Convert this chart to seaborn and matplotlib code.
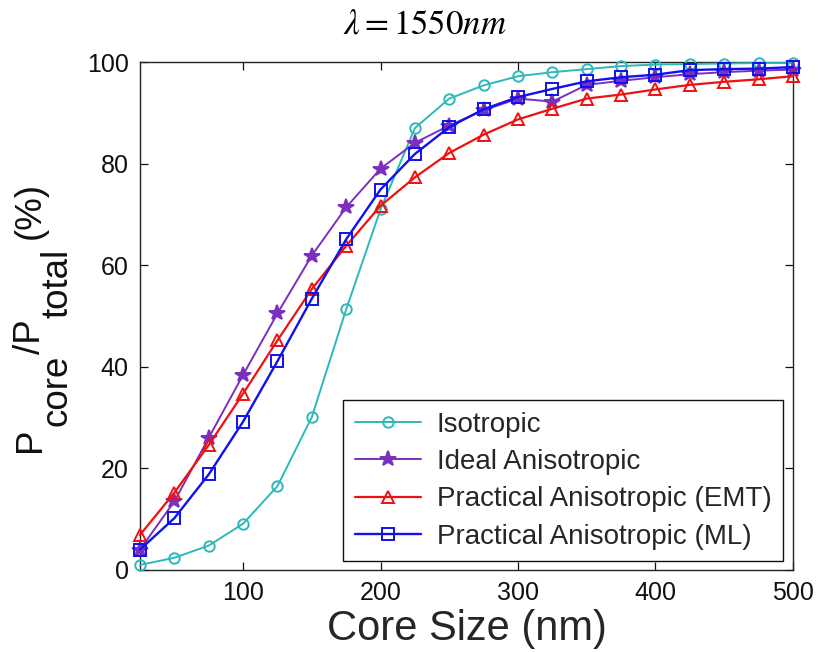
import matplotlib
matplotlib.use("Agg")
import matplotlib.pyplot as plt
import seaborn as sns
import pandas as pd

# Core sizes (nm) at which the power fraction was computed
core_size = [25, 50, 75, 100, 125, 150, 175, 200, 225, 250,
             275, 300, 325, 350, 375, 400, 425, 450, 475, 500]

# Fraction of total power confined in the core (%)
isotropic = [1.0, 2.4, 4.8, 9.1, 16.5, 30.1, 51.3, 71.0, 87.0, 92.8,
             95.4, 97.2, 98.0, 98.6, 99.2, 99.5, 99.6, 99.7, 99.8, 99.8]
ideal_aniso = [4.0, 13.5, 26.0, 38.4, 50.5, 61.9, 71.4, 79.0, 84.1, 87.5,
               90.5, 92.8, 92.2, 95.5, 96.3, 97.0, 97.6, 98.0, 98.3, 98.5]
practical_emt = [6.9, 15.2, 24.6, 34.7, 45.2, 55.3, 63.8, 71.7, 77.3, 82.1,
                 85.7, 88.7, 90.8, 92.8, 93.6, 94.6, 95.5, 96.1, 96.6, 97.2]
practical_ml = [4.0, 10.2, 18.8, 29.2, 41.1, 53.4, 65.1, 74.9, 81.9, 87.2,
                90.7, 93.1, 94.7, 96.2, 97.0, 97.5, 98.4, 98.6, 98.7, 99.0]

series_names = ["Isotropic", "Ideal Anisotropic",
                "Practical Anisotropic (EMT)", "Practical Anisotropic (ML)"]
series_values = [isotropic, ideal_aniso, practical_emt, practical_ml]

x_ticks = [100, 200, 300, 400, 500]
y_ticks = [0, 20, 40, 60, 80, 100]

# Line styling per series: (colour, marker, marker size, filled, line width)
styles = [
    ("#2EB8B8", "o", 7.5, False, 1.4),
    ("#7B2FBE", "*", 11.5, True, 1.4),
    ("#F01010", "^", 8.0, False, 1.6),
    ("#1010F0", "s", 8.0, False, 1.7),
]

sns.set_theme(style="ticks")
plt.rcParams["font.family"] = ["Liberation Sans", "DejaVu Sans"]

W_PX, H_PX = 819, 652
fig = plt.figure(figsize=(W_PX / 100, H_PX / 100), dpi=100)
ax = fig.add_axes([0.1709, 0.1258, 0.7973, 0.7791])

for name, vals, (col, mk, ms, filled, lw) in zip(series_names, series_values, styles):
    df = pd.DataFrame({"size": core_size, "frac": vals})
    sns.lineplot(data=df, x="size", y="frac", ax=ax, color=col, lw=lw,
                 marker=mk, markersize=ms,
                 markerfacecolor=col if filled else "none",
                 markeredgecolor=col, markeredgewidth=1.4,
                 label=name, clip_on=False, zorder=3)

ax.set_xlim(25, 500)
ax.set_ylim(0, 100)
ax.set_xticks(x_ticks)
ax.set_yticks(y_ticks)
ax.tick_params(direction="in", top=True, right=True, length=6, width=0.9,
               labelsize=18, colors="#111111", pad=8)
for sp in ax.spines.values():
    sp.set_visible(True)
    sp.set_linewidth(1.0)
    sp.set_color("#222222")

ax.set_xlabel("Core Size (nm)", fontsize=30, labelpad=3)
ax.set_ylabel("")

# y label built from pieces so the subscripts keep full size, lowered below the baseline
renderer = fig.canvas.get_renderer()
lab_size = 26.5
base_x, sub_x = 40, 67           # pixel columns of the main and subscript baselines
y_px = 452                       # pixel row where the label starts (reads upward)
pieces = [("P", base_x), ("core", sub_x), ("/P", base_x), ("total", sub_x), ("(%)", base_x)]
for txt, bx in pieces:
    if txt == "(%)":
        y_px -= 9
    t = fig.text(bx / W_PX, 1 - y_px / H_PX, txt, rotation=90, rotation_mode="anchor",
                 ha="left", va="baseline", fontsize=lab_size, color="#111111")
    bb = t.get_window_extent(renderer)
    y_px -= bb.height + 1

fig.text(425 / W_PX, 1 - 24 / H_PX, r"$\mathit{\lambda} = \mathrm{1550}\mathit{nm}$",
         ha="center", va="center", fontsize=25, math_fontfamily="stix", color="black")

leg = ax.legend(loc="lower right", bbox_to_anchor=(0.985, 0.017),
                fontsize=20, frameon=True, fancybox=False, handlelength=2.4,
                labelspacing=0.41, borderpad=0.42, handletextpad=0.55,
                borderaxespad=0)
leg.get_frame().set_edgecolor("#111111")
leg.get_frame().set_linewidth(1.0)
leg.get_frame().set_alpha(1.0)

fig.savefig("out.png", dpi=100)
